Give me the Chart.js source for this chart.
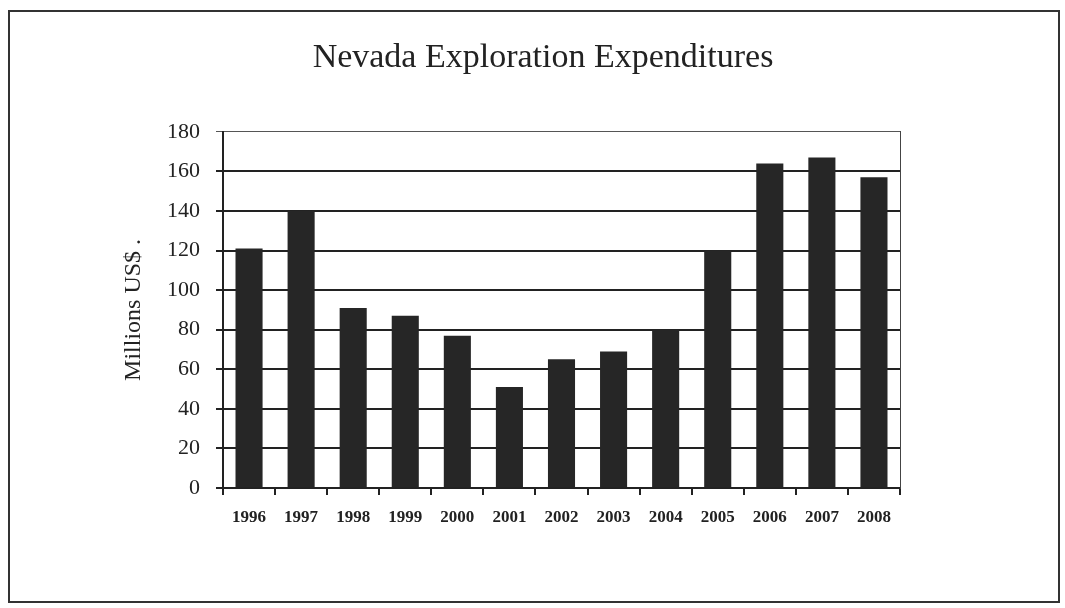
<!DOCTYPE html>
<html>
<head>
<meta charset="utf-8">
<script src="https://cdn.jsdelivr.net/npm/chart.js@4/dist/chart.umd.min.js"></script>
<style>
    html, body { margin: 0; padding: 0; background: #fff; }
    #frame {
        position: absolute; left: 8px; top: 10px;
        width: 1052px; height: 593px;
        border: 2px solid #333;
        box-sizing: border-box;
    }
    #chart { position: absolute; left: 0; top: 0; }
</style>
</head>
<body>
<div id="frame"></div>
<canvas id="chart" width="1065" height="608"></canvas>
<script>
// --- 数据 ---
const years = ['1996', '1997', '1998', '1999', '2000', '2001', '2002', '2003', '2004', '2005', '2006', '2007', '2008'];
const expenditures = [121, 140, 91, 87, 77, 51, 65, 69, 80, 120, 164, 167, 157];
const yMin = 0;
const yMax = 180;
const yStep = 20;

const SERIF = "'Liberation Serif', 'Times New Roman', serif";
const INK = '#222';

new Chart(document.getElementById('chart'), {
    type: 'bar',
    data: {
        labels: years,
        datasets: [{
            label: 'Millions US$',
            data: expenditures,
            backgroundColor: '#262626',
            borderWidth: 0,
            barPercentage: 0.52,
            categoryPercentage: 1
        }]
    },
    options: {
        responsive: false,
        animation: false,
        layout: { padding: { left: 115, right: 94, top: 0, bottom: 70 } },
        scales: {
            x: {
                afterFit: s => { s.height = 50; },
                grid: { drawOnChartArea: false, drawTicks: true, tickLength: 7, color: INK, lineWidth: 2, offset: true },
                border: { display: true, color: INK, width: 2 },
                ticks: { color: INK, font: { family: SERIF, size: 17, weight: 'bold' }, padding: 12, maxRotation: 0 }
            },
            y: {
                min: yMin,
                max: yMax,
                afterFit: s => { s.width = 108; },
                grid: {
                    color: ctx => ctx.tick && ctx.tick.value === yMax ? '#555' : INK,
                    lineWidth: ctx => ctx.tick && ctx.tick.value === yMax ? 1 : 2,
                    tickLength: 7
                },
                border: { display: true, color: INK, width: 2 },
                ticks: { stepSize: yStep, color: INK, font: { family: SERIF, size: 22 }, padding: 16 },
                title: { display: true, text: 'Millions US$ .', color: INK, font: { family: SERIF, size: 24 } }
            },
            // 右侧框线（只画边线，无刻度）
            yRight: {
                position: 'right',
                min: yMin,
                max: yMax,
                afterFit: s => { s.width = 71; },
                grid: { drawOnChartArea: false, drawTicks: false },
                border: { display: true, color: '#444', width: 1 },
                ticks: { display: false }
            }
        },
        plugins: {
            legend: { display: false },
            tooltip: { enabled: false },
            title: {
                display: true,
                text: 'Nevada Exploration Expenditures',
                color: INK,
                font: { family: SERIF, size: 34, weight: 'normal' },
                padding: { top: 38, bottom: 53 }
            }
        }
    }
});
</script>
</body>
</html>
